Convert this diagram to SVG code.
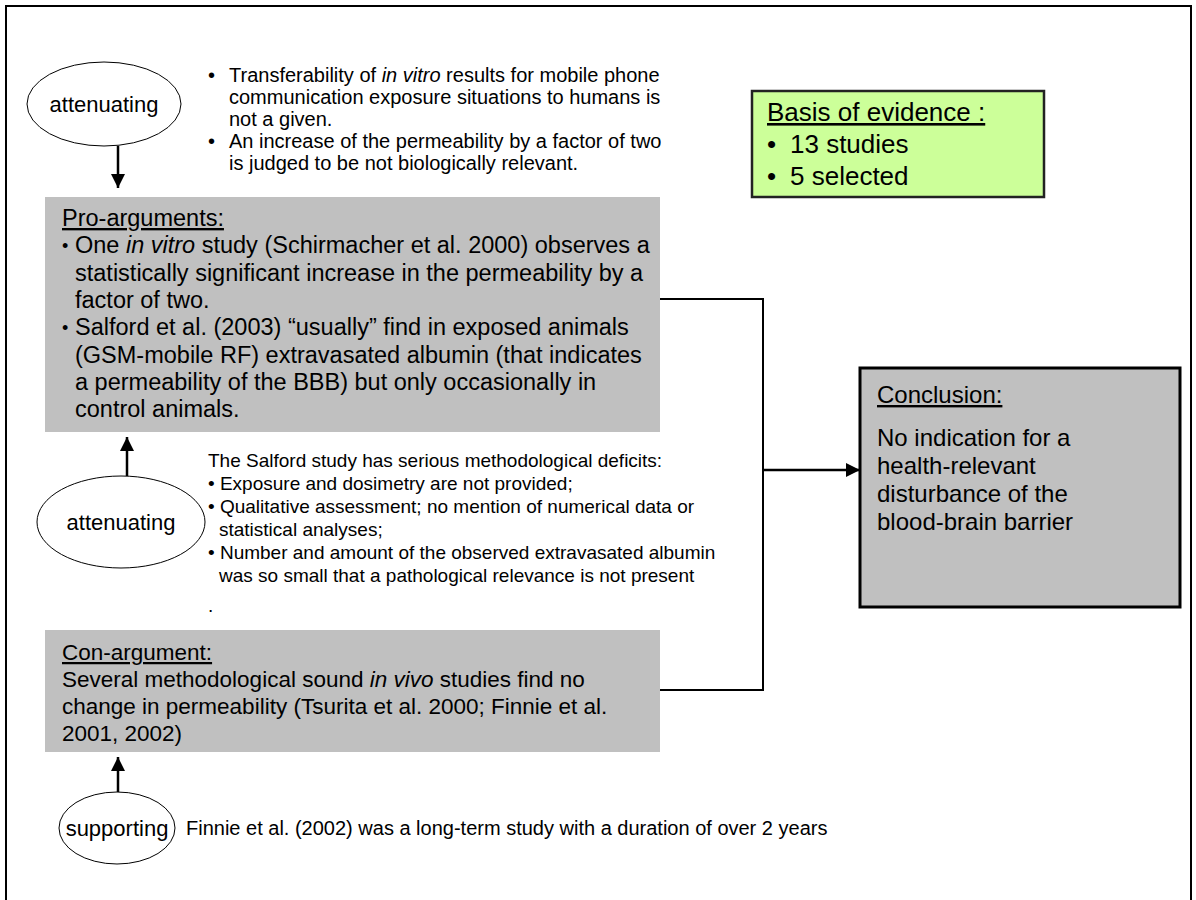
<svg xmlns="http://www.w3.org/2000/svg" width="1196" height="900" viewBox="0 0 1196 900">
  <defs>
    <marker id="arrow" viewBox="0 0 10 10" refX="10" refY="5" markerWidth="5.6" markerHeight="5.6" orient="auto" markerUnits="strokeWidth">
      <path d="M0,0 L10,5 L0,10 Z" fill="#000"/>
    </marker>
    <style>
      text { font-family: "Liberation Sans", Arial, sans-serif; fill: #000; }
      .u { text-decoration: underline; }
      .box { fill: #c0c0c0; stroke: none; }
      .oval { fill: #fff; stroke: #000; stroke-width: 1; }
      .link { fill: none; stroke: #000; stroke-width: 2; }
      .arr { fill: none; stroke: #000; stroke-width: 2.5; marker-end: url(#arrow); }
      .blt { font-size: 18px; }
      .f19 { font-size: 19px; }
      .f20 { font-size: 20px; }
      .f22 { font-size: 22px; }
      .f24 { font-size: 24px; }
      .f26 { font-size: 26px; }
    </style>
  </defs>

  <!-- page frame -->
  <rect x="0" y="0" width="1196" height="900" fill="#fff"/>
  <path d="M6,906 V6 H1191 V906" fill="none" stroke="#000" stroke-width="2"/>

  <!-- connectors -->
  <g id="connectors">
    <path class="link" d="M660,299 H763 V690 H660"/>
    <line class="arr" x1="763" y1="470" x2="860" y2="470"/>
    <line class="arr" x1="118" y1="146" x2="118" y2="188"/>
    <line class="arr" x1="127" y1="476" x2="127" y2="437"/>
    <line class="arr" x1="118" y1="792" x2="118" y2="757"/>
  </g>

  <!-- attenuating (top) -->
  <g id="attenuating-top">
    <ellipse class="oval" cx="104" cy="104" rx="77" ry="42"/>
    <text class="f22" x="104" y="112" text-anchor="middle">attenuating</text>
  </g>

  <g id="attenuating-top-text" class="f20">
    <text x="208" y="82">•</text>
    <text x="229" y="82">Transferability of <tspan font-style="italic">in vitro</tspan> results for mobile phone</text>
    <text x="229" y="104">communication exposure situations to humans is</text>
    <text x="229" y="126">not a given.</text>
    <text x="208" y="148">•</text>
    <text x="229" y="148">An increase of the permeability by a factor of two</text>
    <text x="229" y="170">is judged to be not biologically relevant.</text>
  </g>

  <!-- basis of evidence -->
  <g id="basis">
    <rect x="752" y="91" width="292" height="106" fill="#ccff99" stroke="#222" stroke-width="2.5"/>
    <text class="f26 u" x="767" y="121">Basis of evidence :</text>
    <text class="f26" x="767" y="153">•</text>
    <text class="f26" x="790" y="153">13 studies</text>
    <text class="f26" x="767" y="185">•</text>
    <text class="f26" x="790" y="185">5 selected</text>
  </g>

  <!-- pro-arguments -->
  <g id="pro-arguments" style="font-size:23.5px">
    <rect class="box" x="45" y="197" width="615" height="235"/>
    <text class="u" x="62" y="226">Pro-arguments:</text>
    <text class="blt" x="62" y="252">•</text>
    <text x="75" y="253">One <tspan font-style="italic">in vitro</tspan> study (Schirmacher et al. 2000) observes a</text>
    <text x="75" y="281">statistically significant increase in the permeability by a</text>
    <text x="75" y="308">factor of two.</text>
    <text class="blt" x="62" y="334">•</text>
    <text x="75" y="335">Salford et al. (2003) “usually” find in exposed animals</text>
    <text x="75" y="363">(GSM-mobile RF) extravasated albumin (that indicates</text>
    <text x="75" y="390">a permeability of the BBB) but only occasionally in</text>
    <text x="75" y="417">control animals.</text>
  </g>

  <!-- attenuating (middle) -->
  <g id="attenuating-mid">
    <ellipse class="oval" cx="121" cy="522" rx="84" ry="46"/>
    <text class="f22" x="121" y="530" text-anchor="middle">attenuating</text>
  </g>

  <g id="attenuating-mid-text" class="f19">
    <text x="208" y="467">The Salford study has serious methodological deficits:</text>
    <text x="208" y="490">• Exposure and dosimetry are not provided;</text>
    <text x="208" y="513">• Qualitative assessment; no mention of numerical data or</text>
    <text x="219" y="536">statistical analyses;</text>
    <text x="208" y="559">• Number and amount of the observed extravasated albumin</text>
    <text x="219" y="582">was so small that a pathological relevance is not present</text>
    <text x="208" y="612">.</text>
  </g>

  <!-- con-argument -->
  <g id="con-argument" style="font-size:22.5px">
    <rect class="box" x="45" y="630" width="615" height="122"/>
    <text class="u" x="62" y="660">Con-argument:</text>
    <text x="62" y="687">Several methodological sound <tspan font-style="italic">in vivo</tspan> studies find no</text>
    <text x="62" y="714">change in permeability (Tsurita et al. 2000; Finnie et al.</text>
    <text x="62" y="741">2001, 2002)</text>
  </g>

  <!-- supporting -->
  <g id="supporting">
    <ellipse class="oval" cx="117" cy="828" rx="58" ry="36"/>
    <text class="f22" x="117" y="836" text-anchor="middle">supporting</text>
    <text class="f20" x="186" y="835">Finnie et al. (2002) was a long-term study with a duration of  over 2 years</text>
  </g>

  <!-- conclusion -->
  <g id="conclusion">
    <rect x="860" y="368" width="320" height="239" fill="#c0c0c0" stroke="#000" stroke-width="3"/>
    <text class="f24 u" x="877" y="403">Conclusion:</text>
    <text class="f24" x="877" y="446">No indication for a</text>
    <text class="f24" x="877" y="474">health-relevant</text>
    <text class="f24" x="877" y="502">disturbance of the</text>
    <text class="f24" x="877" y="530">blood-brain barrier</text>
  </g>
</svg>
